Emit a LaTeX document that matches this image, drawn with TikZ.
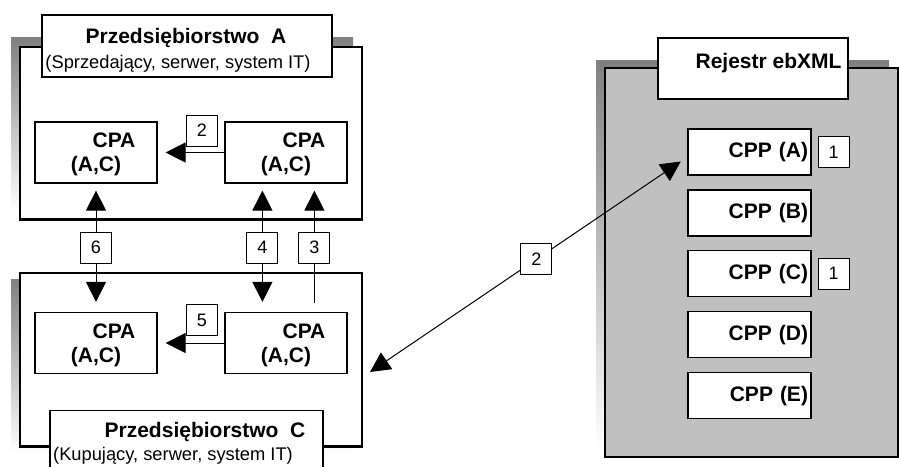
\documentclass[tikz,border=0pt]{standalone}
\usepackage{fontspec}
\setmainfont{Liberation Sans}
\usetikzlibrary{arrows.meta, positioning, calc}
\definecolor{shade}{HTML}{808080}
\definecolor{regfill}{HTML}{C0C0C0}

\begin{document}
\begin{tikzpicture}[
    x=1pt, y=-1pt,
    frame/.style={draw, line width=1.8pt},
    head/.style={draw, fill=white, line width=1.2pt, inner sep=0pt},
    bold/.style={font=\fontsize{21}{24}\selectfont\bfseries},
    role/.style={font=\fontsize{18.3}{20}\selectfont},
    cpa/.style={draw, fill=white, line width=1.2pt, minimum width=122pt, minimum height=61pt, inner sep=0pt, align=center, text depth=0pt, bold},
    cpp/.style={draw, fill=white, line width=1.2pt, minimum width=123pt, minimum height=46pt, text width=117pt, inner xsep=3pt, align=right, bold},
    num/.style={draw, fill=white, line width=1pt, minimum size=31pt, inner sep=0pt, font=\fontsize{18}{20}\selectfont},
    link/.style={line width=1pt, -{Triangle[length=20pt, width=20pt]}},
    link2/.style={line width=1pt, {Triangle[length=20pt, width=20pt]}-{Triangle[length=20pt, width=20pt]}},
]
    \useasboundingbox (0,0) rectangle (899,466);
    % Przedsiebiorstwo A
    \fill[shade] (11,37) rectangle (353,211);
    \draw[frame, fill=white] (20,47) rectangle (362,220);
    \draw[line width=3pt] (20,219.5) -- (362,219.5);
    \node[head, minimum width=290pt, minimum height=62pt] (headA) at (187,46) {};
    \node[bold, anchor=base] (nameA) at (186,43) {Przedsiębiorstwo\ \ A};
    \node[role, anchor=base] (roleA) at (178,68) {(Sprzedający, serwer, system IT)};
    \node[cpa] (aLeft) at (96,152.5) {\hspace*{36pt}CPA\\(A,C)};
    \node[cpa] (aRight) at (286,152.5) {\hspace*{36pt}CPA\\(A,C)};
    % Przedsiebiorstwo C
    \fill[shade] (11,279) rectangle (356,453);
    \draw[frame, fill=white] (20,273) rectangle (362,447);
    \draw[line width=3pt] (20,446.5) -- (362,446.5);
    \node[head, minimum width=273pt, minimum height=70pt, anchor=north] (headC) at (186.5,410) {};
    \node[bold, anchor=base] (nameC) at (205,437) {Przedsiębiorstwo\ \ C};
    \node[role, anchor=base] (roleC) at (173,460) {(Kupujący, serwer, system IT)};
    \node[cpa] (cLeft) at (96,343) {\hspace*{36pt}CPA\\(A,C)};
    \node[cpa] (cRight) at (286,343) {\hspace*{36pt}CPA\\(A,C)};
    % Rejestr
    \fill[shade] (596,60) rectangle (889,449);
    \draw[frame, fill=regfill] (605,68) rectangle (898,457);
    \node[head, minimum width=190pt, minimum height=61pt] (headR) at (753,68.5) {};
    \node[bold, anchor=base east] (nameR) at (845,68) {Rejestr ebXML};
    \foreach \c [count=\i from 0] in {A,B,C,D,E} {
        \node[cpp] (cpp\c) at (749.5,152+60.9*\i) {CPP (\c)};
    }
    \node[num, right=6pt of cppA] (oneA) {1};
    \node[num, right=6pt of cppC] (oneC) {1};
    % Links inside
    \draw[link, shorten >=8pt] (aRight) -- (aLeft);
    \node[num] (twoA) at (202,130.5) {2};
    \draw[link, shorten >=8pt] (cRight) -- (cLeft);
    \node[num] (five) at (202,320) {5};
    % Links between A and C
    \draw[link2, shorten <=7pt, shorten >=10pt] (aLeft) -- node[num] (six) {6} (cLeft);
    \draw[link2, shorten <=7pt, shorten >=10pt] ([xshift=38pt]aRight.south west) -- node[num] (four) {4} ([xshift=38pt]cRight.north west);
    \draw[link, shorten <=9pt, shorten >=7pt] ([xshift=90pt]cRight.north west) -- node[num] (three) {3} ([xshift=90pt]aRight.south west);
    % Link to the registry
    \coordinate (portC) at (370,372);
    \draw[link2, shorten >=8pt] (portC) -- node[num, pos=0.524] (twoR) {2} ([yshift=-5pt]cppA.west);
\end{tikzpicture}
\end{document}
